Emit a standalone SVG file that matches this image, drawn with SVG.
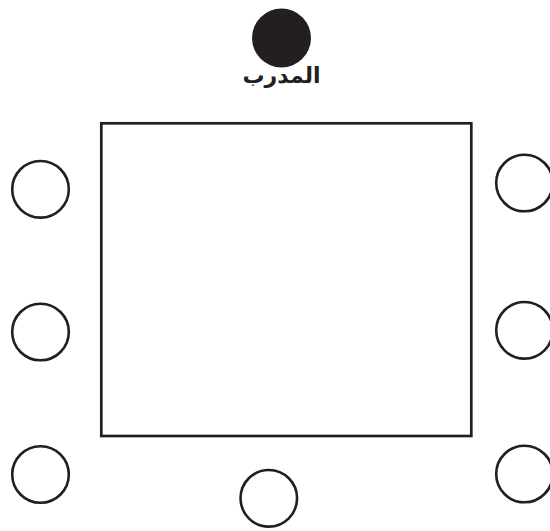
<svg xmlns="http://www.w3.org/2000/svg" width="550" height="531" viewBox="0 0 550 531">
<style>
.seat{fill:none;stroke:#231f20;stroke-width:2.6}
.table{fill:#fff;stroke:#231f20;stroke-width:2.7}
.label{font-family:"DejaVu Sans",sans-serif;font-weight:bold;font-size:22px;fill:#231f20}
</style>
<rect width="550" height="531" fill="#fff"/>
<g id="trainer">
<circle cx="281.5" cy="38" r="29.5" fill="#231f20"/>
<text class="label" x="281.5" y="83" text-anchor="middle" direction="rtl">المدرب</text>
</g>
<g id="table"><rect class="table" x="101.3" y="123.3" width="370" height="312.7"/></g>
<g id="seat-l1"><circle class="seat" cx="40.5" cy="189.3" r="28.3"/></g>
<g id="seat-l2"><circle class="seat" cx="40.5" cy="332" r="28.3"/></g>
<g id="seat-l3"><circle class="seat" cx="40.5" cy="474.5" r="28.3"/></g>
<g id="seat-b"><circle class="seat" cx="268.8" cy="498.3" r="28.3"/></g>
<g id="seat-r1"><circle class="seat" cx="524.5" cy="183" r="28.3"/></g>
<g id="seat-r2"><circle class="seat" cx="524.5" cy="330.3" r="28.3"/></g>
<g id="seat-r3"><circle class="seat" cx="524.5" cy="474" r="28.3"/></g>
<g id="connectors"></g>
</svg>
